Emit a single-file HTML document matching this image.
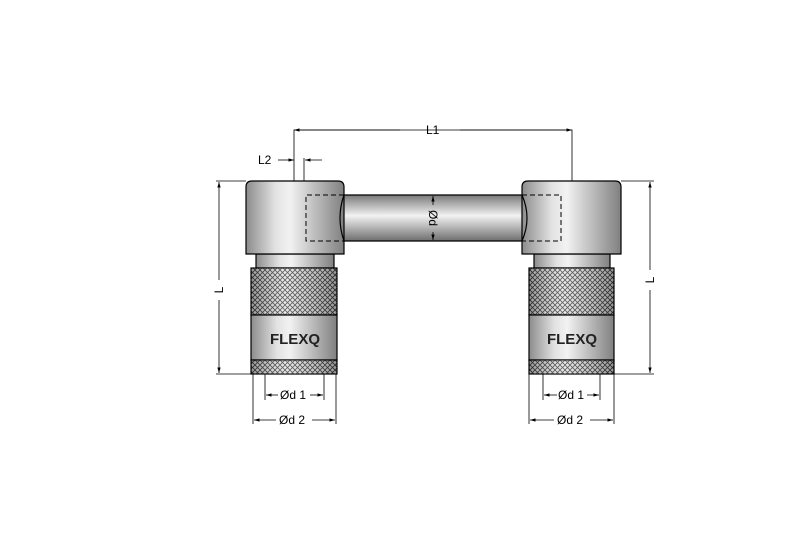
<!DOCTYPE html>
<html><head><style>body{margin:0;background:#fff}svg{display:block}</style></head><body>
<svg width="800" height="534" viewBox="0 0 800 534" xmlns="http://www.w3.org/2000/svg" font-family="Liberation Sans, sans-serif">
<defs>
<linearGradient id="h" x1="0" x2="1" y1="0" y2="0">
<stop offset="0" stop-color="#8c8c8c"/><stop offset="0.3" stop-color="#e2e2e2"/><stop offset="0.45" stop-color="#f2f2f2"/><stop offset="1" stop-color="#808080"/></linearGradient>
<linearGradient id="ho" x1="0" x2="1" y1="0" y2="0">
<stop offset="0" stop-color="#000" stop-opacity="0.35"/><stop offset="0.4" stop-color="#fff" stop-opacity="0.2"/><stop offset="1" stop-color="#000" stop-opacity="0.35"/></linearGradient>
<linearGradient id="v" x1="0" x2="0" y1="0" y2="1">
<stop offset="0" stop-color="#7a7a7a"/><stop offset="0.45" stop-color="#f2f2f2"/><stop offset="1" stop-color="#6e6e6e"/></linearGradient>
<pattern id="k" width="5" height="5" patternUnits="userSpaceOnUse">
<rect width="5" height="5" fill="#e4e4e4"/><path d="M0 0L5 5M5 0L0 5" stroke="#3a3a3a" stroke-width="0.8"/></pattern>
<marker id="a" viewBox="0 0 10 10" refX="10" refY="5" markerWidth="7" markerHeight="7" orient="auto-start-reverse"><path d="M0 2L10 5L0 8z" fill="#000"/></marker>
</defs>
<g stroke="#000" stroke-width="1.2">
<path d="M336 195H530Q520 218 530 241H336Q346 218 336 195Z" fill="url(#v)"/>
<rect x="256" y="254" width="78" height="14" fill="url(#h)"/>
<path d="M252 181H338Q344 181 344 187V254H246V187Q246 181 252 181Z" fill="url(#h)"/>
<path d="M344 195Q336 218 344 241" fill="none"/>
<rect x="251" y="268" width="86" height="47" fill="url(#k)"/>
<rect x="251" y="268" width="86" height="47" fill="url(#ho)" stroke="none"/>
<rect x="251" y="315" width="86" height="45" fill="url(#h)"/>
<rect x="251" y="360" width="86" height="14" fill="url(#k)"/>
<rect x="251" y="360" width="86" height="14" fill="url(#ho)" stroke="none"/>
<rect x="534" y="254" width="76" height="14" fill="url(#h)"/>
<path d="M528 181H615Q621 181 621 187V254H522V187Q522 181 528 181Z" fill="url(#h)"/>
<path d="M522 195Q532 218 522 241" fill="none"/>
<rect x="529" y="268" width="85" height="47" fill="url(#k)"/>
<rect x="529" y="268" width="85" height="47" fill="url(#ho)" stroke="none"/>
<rect x="529" y="315" width="85" height="45" fill="url(#h)"/>
<rect x="529" y="360" width="85" height="14" fill="url(#k)"/>
<rect x="529" y="360" width="85" height="14" fill="url(#ho)" stroke="none"/>
</g>
<g stroke="#000" stroke-width="1" fill="none" stroke-dasharray="5,3">
<path d="M344 195H306V241H344"/>
<path d="M522 195H561V241H522"/>
</g>
<g stroke="#000" stroke-width="0.8" fill="none">
<path d="M294 181V130H572V181"/>
<path d="M400 130H294" marker-end="url(#a)"/><path d="M460 130H572" marker-end="url(#a)"/>
<path d="M304 181V158"/>
<path d="M278 160H294" marker-end="url(#a)"/><path d="M322 160H305" marker-end="url(#a)"/>
<path d="M246 181H216M251 374H216M621 181H654M614 374H654"/>
<path d="M219 280V182" marker-end="url(#a)"/><path d="M219 300V373" marker-end="url(#a)"/>
<path d="M650 270V182" marker-end="url(#a)"/><path d="M650 290V373" marker-end="url(#a)"/>
<path d="M433 205V196" marker-end="url(#a)"/><path d="M433 232V240" marker-end="url(#a)"/>
<path d="M265 374V400M324 374V400M253 374V424M336 374V424"/>
<path d="M278 395H266" marker-end="url(#a)"/><path d="M310 395H323" marker-end="url(#a)"/>
<path d="M276 420H254" marker-end="url(#a)"/><path d="M312 420H335" marker-end="url(#a)"/>
<path d="M543 374V400M600 374V400M529 374V424M614 374V424"/>
<path d="M557 395H544" marker-end="url(#a)"/><path d="M587 395H599" marker-end="url(#a)"/>
<path d="M554 420H530" marker-end="url(#a)"/><path d="M590 420H613" marker-end="url(#a)"/>
</g>
<g font-size="12" fill="#000">
<text x="426" y="134">L1</text>
<text x="258" y="164">L2</text>
<text x="280" y="399">Ød 1</text>
<text x="279" y="424">Ød 2</text>
<text x="558" y="399">Ød 1</text>
<text x="557" y="424">Ød 2</text>
<text transform="translate(223,290) rotate(-90)" text-anchor="middle">L</text>
<text transform="translate(654,280) rotate(-90)" text-anchor="middle">L</text>
<text transform="translate(429,218) rotate(90)" text-anchor="middle">Ød</text>
</g>
<g font-size="15" font-weight="bold" fill="#222" text-anchor="middle">
<text x="295" y="344">FLEXQ</text>
<text x="572" y="344">FLEXQ</text>
</g>
</svg>
</body></html>
